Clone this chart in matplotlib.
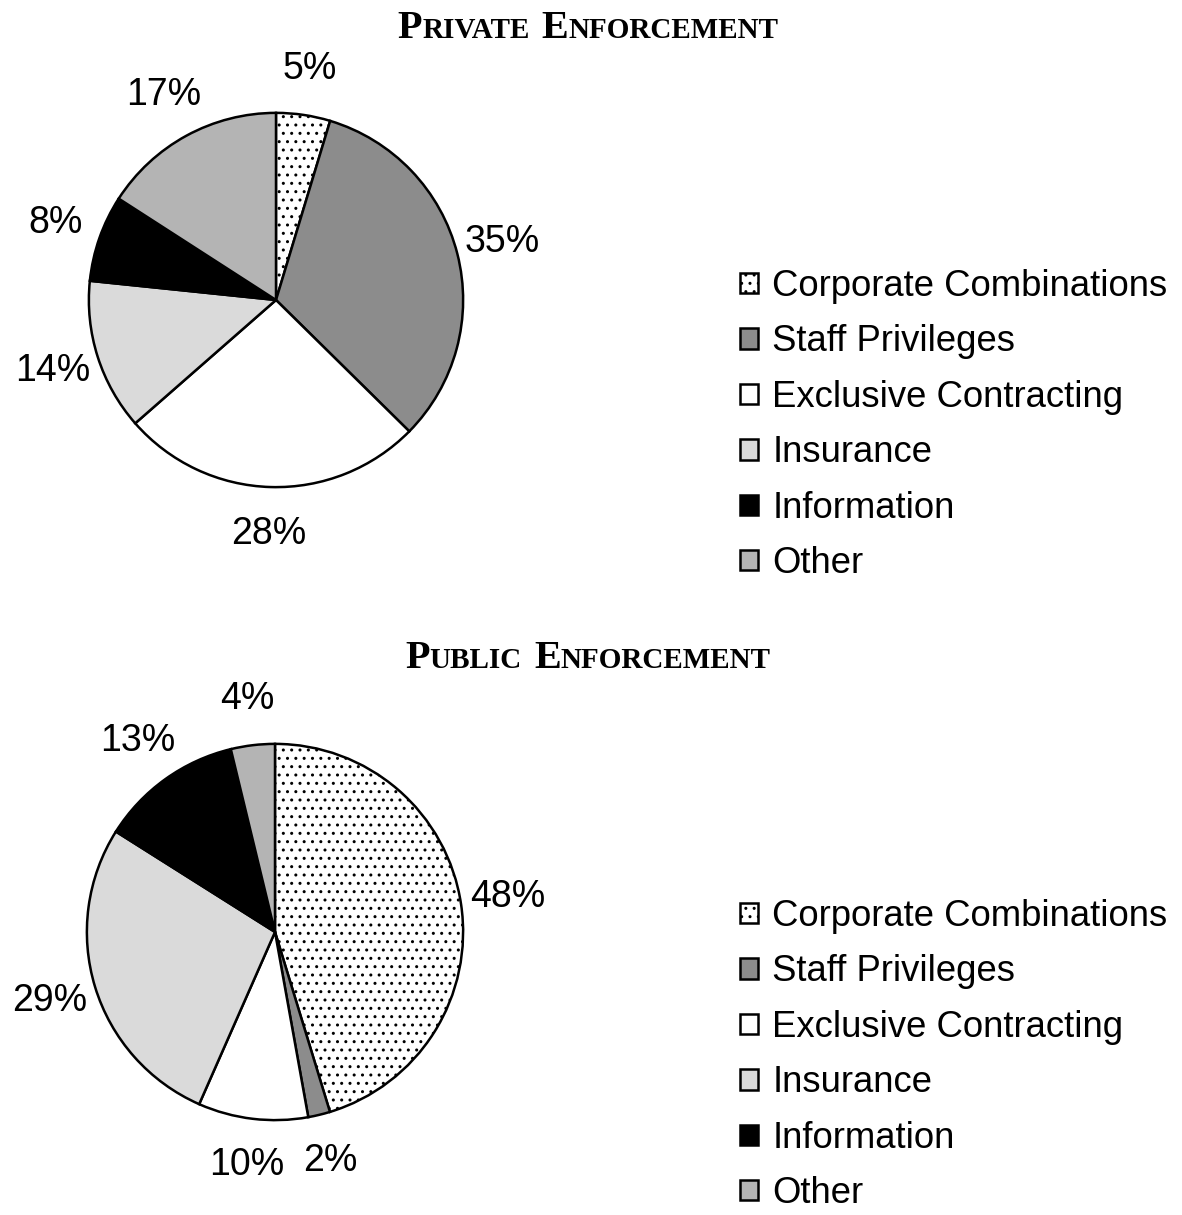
import matplotlib
matplotlib.use("Agg")
from matplotlib import pyplot as plt

# --- Data ---
categories = ["Corporate Combinations", "Staff Privileges", "Exclusive Contracting",
              "Insurance", "Information", "Other"]
private_pct = [5, 35, 28, 14, 8, 17]
public_pct = [48, 2, 10, 29, 13, 4]

# --- Style ---
colors = ["white", "#8c8c8c", "white", "#dadada", "black", "#b4b4b4"]
hatches = ["..", None, None, None, None, None]
W, H = 1182, 1215
SANS = ["Liberation Sans", "DejaVu Sans"]
SERIF = ["Liberation Serif", "DejaVu Serif"]

fig = plt.figure(figsize=(W / 100, H / 100), dpi=100)


def small_caps(x_center, y_base, text, big=29, small=21):
    """Fake small caps title, centred on x_center (pixels from left)."""
    renderer = fig.canvas.get_renderer()
    pieces = []
    for i, word in enumerate(text.split()):
        if i:
            pieces.append((" ", small))
        pieces.append((word[0], big))
        pieces.append((word[1:].upper(), small))
    items = []
    total = 0
    for s, size in pieces:
        if s == " ":
            items.append((None, 12))
            total += 12
            continue
        t = fig.text(0, 1 - y_base / H, s, fontsize=size, family=SERIF,
                     weight="bold", va="baseline", ha="left")
        w = t.get_window_extent(renderer).width
        items.append((t, w))
        total += w
    x = x_center - total / 2
    for t, w in items:
        if t is not None:
            t.set_x(x / W)
        x += w


def draw_pie(cx, cy, r, values, legend_top):
    ax = fig.add_axes([(cx - r) / W, 1 - (cy + r) / H, 2 * r / W, 2 * r / H])
    wedges, texts = ax.pie(values, labels=[f"{v}%" for v in values],
                           colors=colors, hatch=hatches, startangle=90,
                           counterclock=False, labeldistance=1.25,
                           wedgeprops=dict(edgecolor="black", linewidth=1.8),
                           textprops=dict(fontsize=27, family=SANS))
    ax.set_xlim(-1.01, 1.01)
    ax.set_ylim(-1.01, 1.01)
    for t in texts:
        t.set_clip_on(False)
        t.set_ha("center")
        t.set_va("center")
    fig.legend(wedges, categories, loc="upper left",
               bbox_to_anchor=(740 / W, 1 - legend_top / H),
               frameon=False, borderpad=0, borderaxespad=0,
               handlelength=0.48, handleheight=0.48, handletextpad=0.4,
               labelspacing=0.56, prop=dict(family=SANS, size=26.3))
    return ax


draw_pie(276, 300, 189, private_pct, 269)
small_caps(588, 38, "Private Enforcement")
draw_pie(275, 932, 190, public_pct, 899)
small_caps(588, 668, "Public Enforcement")

fig.savefig("out.png", dpi=100)
